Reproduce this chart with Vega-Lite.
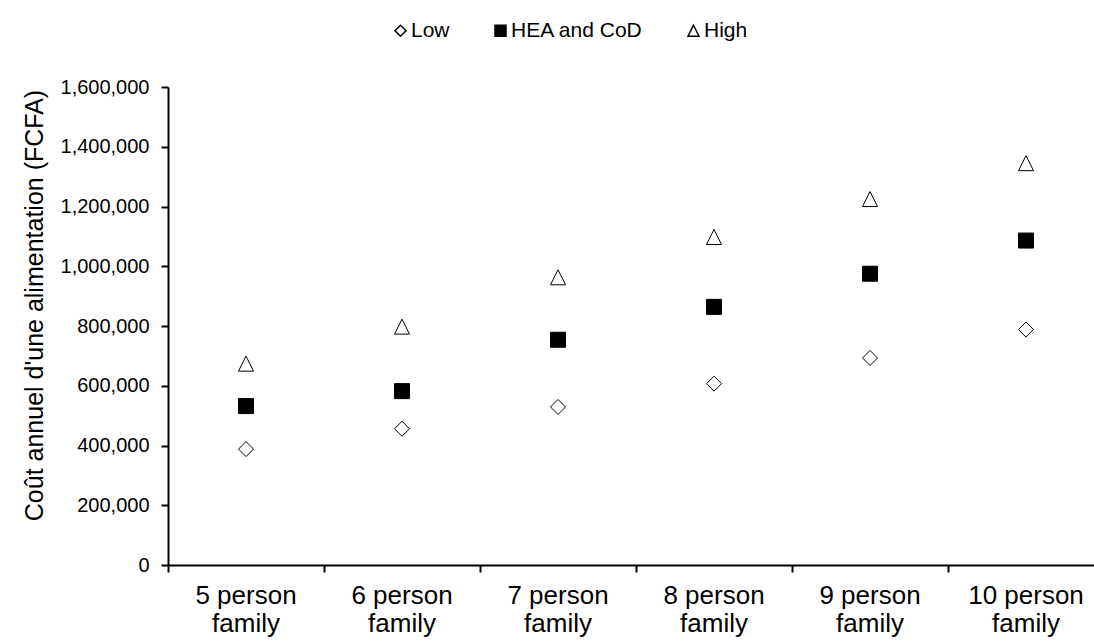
{
  "$schema": "https://vega.github.io/schema/vega-lite/v6.json",
  "autosize": {"type": "none"},
  "padding": {"left": 168, "top": 87, "right": 0, "bottom": 76},
  "width": 926,
  "height": 478,
  "background": "white",
  "config": {
    "view": {"stroke": null},
    "font": "Liberation Sans",
    "axis": {"grid": false, "domainColor": "#000", "tickColor": "#000", "labelColor": "#000", "titleColor": "#000", "labelFont": "Liberation Sans", "titleFont": "Liberation Sans"},
    "legend": {"labelFont": "Liberation Sans"}
  },
  "data": {
    "values": [
      {"family": "5 person family", "series": "Low", "cost": 388000},
      {"family": "5 person family", "series": "HEA and CoD", "cost": 532000},
      {"family": "5 person family", "series": "High", "cost": 674000},
      {"family": "6 person family", "series": "Low", "cost": 456000},
      {"family": "6 person family", "series": "HEA and CoD", "cost": 582000},
      {"family": "6 person family", "series": "High", "cost": 798000},
      {"family": "7 person family", "series": "Low", "cost": 529000},
      {"family": "7 person family", "series": "HEA and CoD", "cost": 754000},
      {"family": "7 person family", "series": "High", "cost": 963000},
      {"family": "8 person family", "series": "Low", "cost": 607000},
      {"family": "8 person family", "series": "HEA and CoD", "cost": 864000},
      {"family": "8 person family", "series": "High", "cost": 1098000},
      {"family": "9 person family", "series": "Low", "cost": 693000},
      {"family": "9 person family", "series": "HEA and CoD", "cost": 975000},
      {"family": "9 person family", "series": "High", "cost": 1225000},
      {"family": "10 person family", "series": "Low", "cost": 788000},
      {"family": "10 person family", "series": "HEA and CoD", "cost": 1086000},
      {"family": "10 person family", "series": "High", "cost": 1345000}
    ]
  },
  "mark": {"type": "point", "filled": true, "stroke": "#000", "strokeWidth": 1, "size": 225, "opacity": 1},
  "encoding": {
    "x": {
      "field": "family", "type": "nominal", "sort": null,
      "scale": {"type": "band", "paddingInner": 0, "paddingOuter": 0, "range": [0, 936]},
      "axis": {
        "title": null, "labelAngle": 0, "bandPosition": 0, "ticks": true, "tickSize": 7, "tickWidth": 2,
        "domainWidth": 2, "labelFontSize": 26, "labelPadding": 10, "labelLineHeight": 28,
        "labelBaseline": "top",
        "labelExpr": "[replace(datum.label, ' family', ''), 'family']"
      }
    },
    "y": {
      "field": "cost", "type": "quantitative",
      "scale": {"domain": [0, 1600000], "nice": false, "zero": true},
      "axis": {
        "title": "Coût annuel d'une alimentation (FCFA)",
        "values": [0, 200000, 400000, 600000, 800000, 1000000, 1200000, 1400000, 1600000],
        "format": ",.0f", "tickSize": 7, "tickWidth": 2, "domainWidth": 2,
        "labelFontSize": 20, "labelPadding": 12,
        "titleFontSize": 25, "titleFontWeight": "normal",
        "titleAngle": -90, "titleX": -134, "titleY": 218, "titleAlign": "center", "titleBaseline": "middle"
      }
    },
    "shape": {
      "field": "series", "type": "nominal",
      "scale": {"domain": ["Low", "HEA and CoD", "High"], "range": ["diamond", "square", "M0,-1L1,1L-1,1Z"]},
      "legend": {
        "title": null, "orient": "none", "legendX": 222, "legendY": -67, "direction": "horizontal",
        "labelFontSize": 21, "symbolSize": 121,
        "columnPadding": 40, "labelOffset": 0, "padding": 0, "labelColor": "#000",
        "encode": {"symbols": {"update": {
          "stroke": {"value": "#000"},
          "strokeWidth": {"value": 1},
          "opacity": {"value": 1},
          "fill": {"signal": "datum.value === 'HEA and CoD' ? '#000000' : '#ffffff'"}
        }}}
      }
    },
    "fill": {
      "field": "series", "type": "nominal",
      "scale": {"domain": ["Low", "HEA and CoD", "High"], "range": ["#ffffff", "#000000", "#ffffff"]},
      "legend": null
    }
  }
}
